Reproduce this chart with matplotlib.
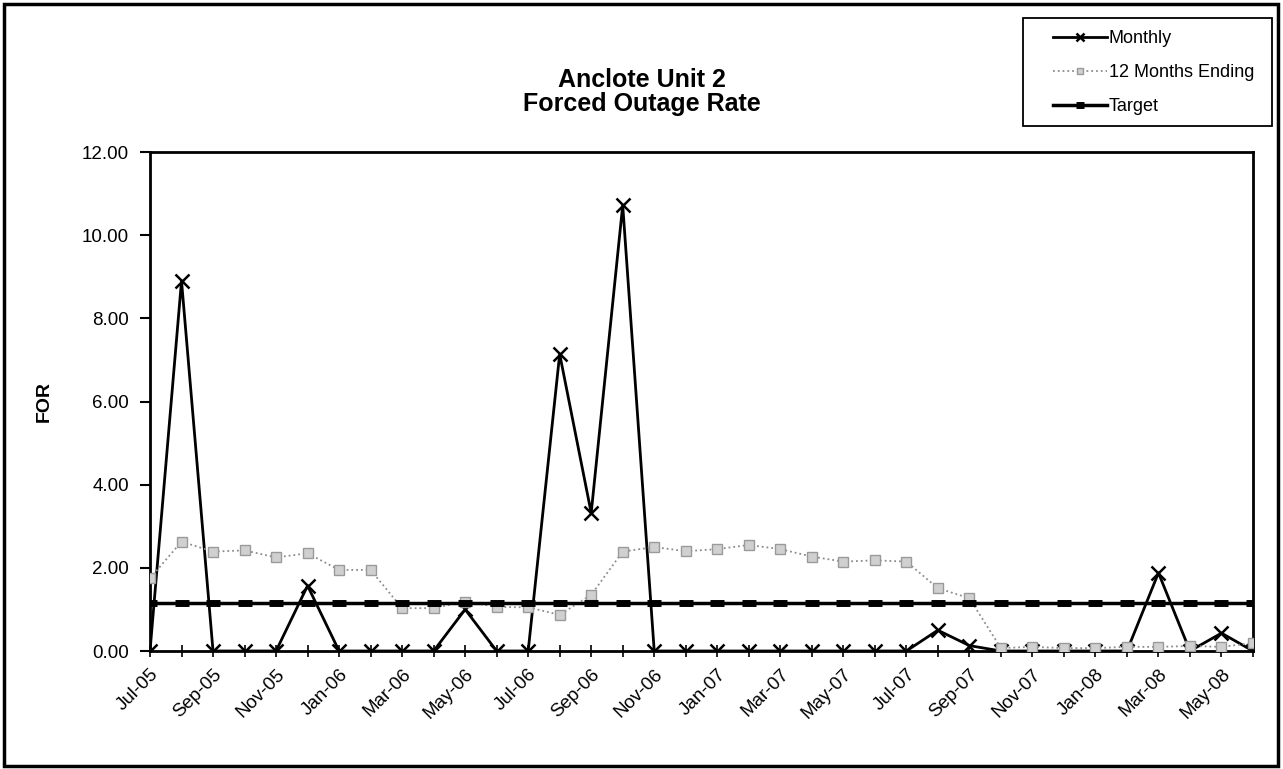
import matplotlib
matplotlib.use('Agg')
import matplotlib.pyplot as plt
from matplotlib.patches import Rectangle

plt.rcParams['font.family'] = ['Liberation Sans', 'DejaVu Sans']

# month labels, Jul-05 .. Jun-08
months = ['Jul-05', 'Aug-05', 'Sep-05', 'Oct-05', 'Nov-05', 'Dec-05',
          'Jan-06', 'Feb-06', 'Mar-06', 'Apr-06', 'May-06', 'Jun-06',
          'Jul-06', 'Aug-06', 'Sep-06', 'Oct-06', 'Nov-06', 'Dec-06',
          'Jan-07', 'Feb-07', 'Mar-07', 'Apr-07', 'May-07', 'Jun-07',
          'Jul-07', 'Aug-07', 'Sep-07', 'Oct-07', 'Nov-07', 'Dec-07',
          'Jan-08', 'Feb-08', 'Mar-08', 'Apr-08', 'May-08', 'Jun-08']

monthly = [0, 8.9, 0, 0, 0, 1.57, 0, 0, 0, 0, 1.0, 0,
           0, 7.14, 3.32, 10.72, 0, 0, 0, 0, 0, 0, 0, 0,
           0, 0.5, 0.13, 0, 0, 0, 0, 0, 1.88, 0, 0.43, 0]

rolling12 = [1.75, 2.63, 2.39, 2.42, 2.25, 2.35, 1.95, 1.95, 1.03, 1.03, 1.19, 1.06,
             1.05, 0.87, 1.35, 2.39, 2.5, 2.4, 2.45, 2.55, 2.45, 2.27, 2.15, 2.18,
             2.15, 1.51, 1.27, 0.07, 0.1, 0.07, 0.07, 0.1, 0.1, 0.12, 0.1, 0.19]

target = [1.16] * len(months)

x = list(range(len(months)))

fig = plt.figure(figsize=(12.83, 7.69), dpi=100)
ax = fig.add_axes([150 / 1283, 1 - 651 / 769, 1103 / 1283, 499 / 769])

ax.plot(x, monthly, color='black', lw=2, marker='x', markersize=10,
        markeredgewidth=1.8, label='Monthly', zorder=3)
ax.plot(x, rolling12, color='#8c8c8c', lw=1.3, linestyle=':', marker='s',
        markersize=7, markerfacecolor='#d0d0d0', markeredgecolor='#9a9a9a',
        label='12 Months Ending', zorder=4)
ax.plot(x, target, color='black', lw=2.5, marker='_', markersize=10,
        markeredgewidth=5, label='Target', zorder=5)

ax.set_xlim(0, len(months) - 1)
ax.set_ylim(0, 12)
ax.set_yticks([0, 2, 4, 6, 8, 10, 12])
ax.set_yticklabels([f'{v:.2f}' for v in [0, 2, 4, 6, 8, 10, 12]])
ax.set_xticks(x, minor=True)
ax.set_xticks(x[::2])
ax.set_xticklabels(months[::2], rotation=45, ha='right', rotation_mode='anchor')
ax.tick_params(axis='x', which='both', direction='inout', length=9, width=1.2,
               labelsize=13.5, pad=6)
ax.tick_params(axis='y', direction='out', length=7, width=1.5, labelsize=13.5, pad=8)
for s in ax.spines.values():
    s.set_linewidth(2)
ax.set_ylabel('FOR', fontsize=14, fontweight='bold', labelpad=21)

fig.text(0.5, 1 - 92 / 769, 'Anclote Unit 2\nForced Outage Rate', ha='center',
         va='center', fontsize=18, fontweight='bold', linespacing=1.05)

# legend without its own frame, box drawn separately
leg = fig.legend(loc='upper left', bbox_to_anchor=(1053 / 1283, 1 - 30 / 769),
                 fontsize=13, frameon=False, handlelength=3.0, handletextpad=0.1,
                 labelspacing=0.95, borderpad=0, borderaxespad=0, markerscale=0.6)
fig.add_artist(Rectangle((1023 / 1283, 1 - 126 / 769), 249 / 1283, 108 / 769,
                         transform=fig.transFigure, fill=False, lw=1.3,
                         edgecolor='black'))

fig.add_artist(Rectangle((4 / 1283, 3 / 769), 1274 / 1283, 762 / 769,
                         transform=fig.transFigure, fill=False, lw=2.5,
                         edgecolor='black'))

fig.savefig('out.png', dpi=100)
